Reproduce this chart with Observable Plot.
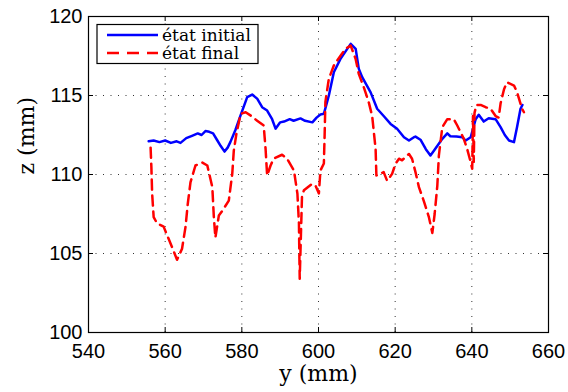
<!DOCTYPE html>
<html><head><meta charset="utf-8">
<script src="https://cdn.jsdelivr.net/npm/d3@7"></script>
<script src="https://cdn.jsdelivr.net/npm/@observablehq/plot@0.6"></script>
<style>body{margin:0;background:#fff}</style>
</head><body><div id="chart"></div>
<script>
const xTicks = [540,560,580,600,620,640,660];
const yTicks = [100,105,110,115,120];
const seriesNames = ["état initial","état final"];
const yInitial = [555.7,557,558.5,560,561.5,563,564,565.5,567,568.5,569.5,570.5,571.5,572.5,573.5,574.5,575.5,576.3,577,578.3,579.6,580.5,581.4,582.7,584,585.3,586.6,587.9,588.8,590,591,592.5,593.5,595.3,596.5,598.4,599.5,600.5,601.4,602.7,604,605.7,607.5,608.4,609.7,610.5,611.4,613.6,615.3,617,618.8,620.5,622.3,623.6,624.9,625.3,626.6,628,629.2,630.1,632.3,633.6,634.4,636,637.5,638.4,639.7,641,641.8,643.1,644.4,646.2,647.5,648.6,649.7,651,651.8,652.7,653.2];
const zInitial = [112.1,112.15,112.05,112.15,112.0,112.1,112.0,112.3,112.45,112.6,112.5,112.75,112.7,112.6,112.2,111.8,111.45,111.7,112.05,112.8,113.7,114.3,114.9,115.06,114.8,114.26,114.05,113.5,112.9,113.3,113.35,113.5,113.4,113.55,113.4,113.3,113.6,113.8,113.84,115.0,116.47,117.3,117.95,118.27,117.95,116.7,116.16,115.2,114.16,113.7,113.2,112.9,112.36,112.15,112.36,112.4,112.2,111.6,111.2,111.5,112.26,112.6,112.42,112.4,112.36,112.15,112.36,113.5,113.78,113.35,113.56,113.5,113.0,112.5,112.15,112.05,113.0,114.16,114.4];
const yFinal = [556.2,556.4,556.6,557,557.9,558.8,559.6,560.9,561.8,563.1,564.4,565.3,565.9,566.6,567.9,569.7,571,572.3,572.7,573.1,574,574.9,576.6,577.5,577.9,578.6,579.7,581,582.5,584,585.7,586.2,586.6,587.5,588.3,590.5,591.8,593.6,594,594.5,594.9,595.0,595.1,595.7,596.2,598.3,599.2,600.1,600.5,601.4,601.6,601.8,602.7,604,605.7,607,608.4,609.7,610.5,611.8,613.1,614,614.9,615.1,617,617.9,619.2,620.1,621,621.8,623.6,624.4,625.3,626.2,627.5,628.8,629.7,630.3,631,631.4,632.3,633.6,635.3,636.2,637.9,638.8,639.7,640.1,640.3,640.5,640.7,641.2,642.3,643.6,644.9,646.2,647,647.5,648.4,649.2,651,651.8,653.1,653.6];
const zFinal = [111.7,110.5,108.8,107.3,106.9,106.8,106.7,105.93,105.4,104.6,105.3,106.67,108.15,109.5,110.57,110.75,110.57,109.2,107.3,106.0,107.4,107.7,108.35,110.04,111.5,112.6,113.84,113.94,113.7,113.4,113.1,111.6,109.94,110.57,111.0,111.25,111.0,110.25,109.6,108.78,106.9,105.0,103.4,108.67,109.0,109.4,109.3,108.8,110.25,110.7,112.5,114.6,116.06,116.9,117.5,117.95,118.16,117.3,116.37,115.53,114.58,113.7,111.6,109.94,110.15,109.6,110.04,110.68,111.0,110.9,111.3,111.0,110.15,109.2,108.3,107.3,106.3,107.5,109.3,111.2,113.0,113.5,113.5,113.1,112.26,111.6,110.78,110.36,113.7,110.8,113.9,114.4,114.4,114.26,114.16,113.7,113.6,114.5,115.4,115.84,115.63,115.2,114.16,113.94];

const initial = yInitial.map((y,i)=>({y, z:zInitial[i]}));
const final = yFinal.map((y,i)=>({y, z:zFinal[i]}));
const colors = ["#0000ff","#ff0000"];

const W = 568, H = 392, mL = 88, mR = 20, mT = 16, mB = 60;
const innerW = W - mL - mR, innerH = H - mT - mB;
const tl = 5;
const grid = {stroke:"#333", strokeOpacity:1, strokeDasharray:"1,6.5", strokeWidth:1};

const chart = Plot.plot({
  width: W, height: H,
  marginLeft: mL, marginRight: mR, marginTop: mT, marginBottom: mB,
  style: {fontFamily: "Liberation Sans, Arial, sans-serif", fontSize: "20px", color: "#000", background: "#fff"},
  x: {domain: [540, 660]},
  y: {domain: [100, 120]},
  marks: [
    Plot.gridX(xTicks.slice(1,-1), grid),
    Plot.gridY(yTicks.slice(1,-1), grid),
    Plot.tickX(xTicks, {x: d=>d, insetTop: innerH - tl, stroke:"#000"}),
    Plot.tickX(xTicks, {x: d=>d, insetBottom: innerH - tl, stroke:"#000"}),
    Plot.tickY(yTicks, {y: d=>d, insetRight: innerW - tl, stroke:"#000"}),
    Plot.tickY(yTicks, {y: d=>d, insetLeft: innerW - tl, stroke:"#000"}),
    Plot.axisX({ticks: xTicks, tickSize: 0, tickPadding: 11, fontSize: 20, label: null, tickFormat: d=>String(d)}),
    Plot.axisY({ticks: yTicks, tickSize: 0, tickPadding: 6, fontSize: 20, label: null, tickFormat: d=>String(d)}),
    Plot.line(initial, {x: "y", y: "z", stroke: colors[0], strokeWidth: 2.5, strokeLinejoin: "round"}),
    Plot.line(final, {x: "y", y: "z", stroke: colors[1], strokeWidth: 2.5, strokeDasharray: "10,6"}),
    Plot.frame({stroke: "#000", strokeWidth: 1.2}),
    Plot.text(["y (mm)"], {frameAnchor: "bottom", dy: 48, fontFamily: "DejaVu Serif", fontSize: 22, fill: "#000"}),
    Plot.text(["z (mm)"], {frameAnchor: "left", dx: -62, rotate: -90, fontFamily: "DejaVu Serif", fontSize: 22, fill: "#000"})
  ]
});

// legend
const svg = d3.select(chart);
const lg = svg.append("g");
lg.append("rect").attr("x", 97).attr("y", 24.5).attr("width", 161).attr("height", 39)
  .attr("fill", "#fff").attr("stroke", "#000").attr("stroke-width", 1.2);
seriesNames.forEach((name, i) => {
  const cy = 35 + i * 18;
  lg.append("line").attr("x1", 107).attr("x2", 158).attr("y1", cy).attr("y2", cy)
    .attr("stroke", colors[i]).attr("stroke-width", 2.5)
    .attr("stroke-dasharray", i === 1 ? "12,8" : null);
  lg.append("text").attr("x", 162).attr("y", cy).attr("dy", "0.35em")
    .attr("text-anchor", "start")
    .attr("font-family", "DejaVu Serif").attr("font-size", 17).attr("fill", "#000").text(name);
});
document.getElementById("chart").appendChild(chart);
</script>
</body></html>
